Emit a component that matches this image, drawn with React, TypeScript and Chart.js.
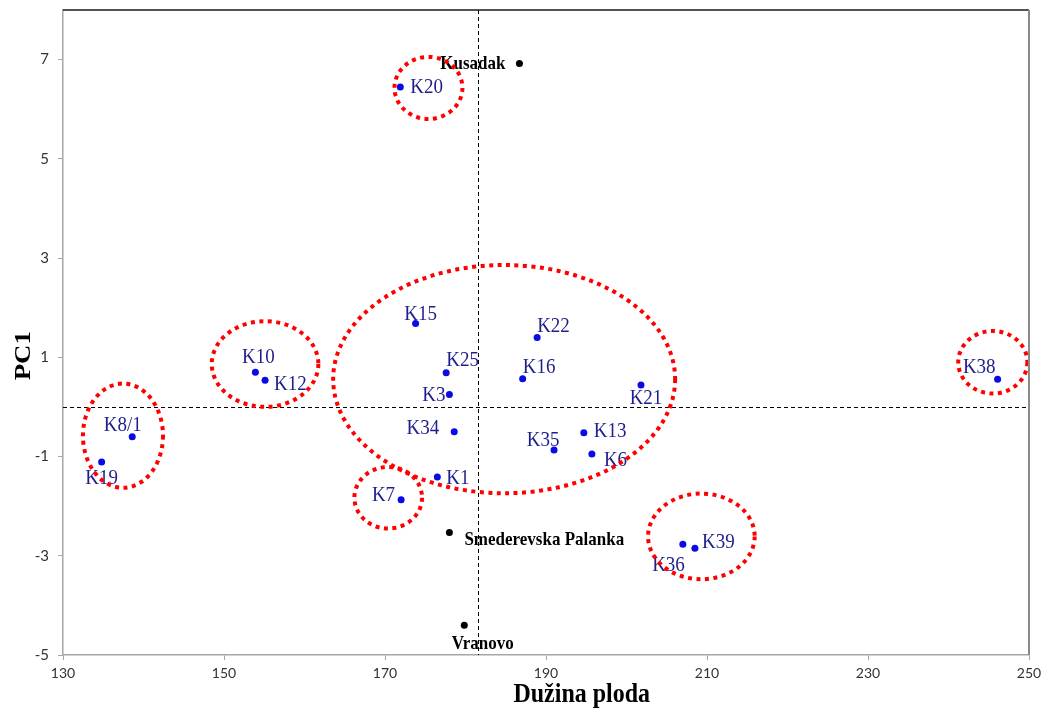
import React, { useEffect, useRef } from "react";
import { Chart, registerables } from "chart.js";

Chart.register(...registerables);

// ---- data ----
const accessionNames = ["K20", "K10", "K12", "K8/1", "K19", "K15", "K22", "K25", "K16", "K3", "K21", "K34", "K13", "K35", "K6", "K1", "K7", "K36", "K39", "K38"];
const accessionLength = [171.9, 153.9, 155.1, 138.6, 134.8, 173.8, 188.9, 177.6, 187.1, 178.0, 201.8, 178.6, 194.7, 191.0, 195.7, 176.5, 172.0, 207.0, 208.5, 246.1];
const accessionPC1 = [6.45, 0.70, 0.54, -0.60, -1.11, 1.68, 1.40, 0.69, 0.57, 0.25, 0.44, -0.50, -0.52, -0.87, -0.95, -1.41, -1.87, -2.77, -2.85, 0.56];

const locationNames = ["Kusadak", "Smederevska Palanka", "Vranovo"];
const locationLength = [186.7, 178.0, 179.85];
const locationPC1 = [6.92, -2.53, -4.40];

const xTicks = [130, 150, 170, 190, 210, 230, 250];
const yTicks = [-5, -3, -1, 1, 3, 5, 7];

// reference (mean) lines
const meanLength = 181.5;
const meanPC1 = 0;

// grouping ellipses: centre x, centre y, radius x, radius y (data units)
const groupCx = [175.4, 155.1, 137.45, 184.8, 170.4, 209.3, 245.5];
const groupCy = [6.43, 0.865, -0.58, 0.56, -1.83, -2.61, 0.90];
const groupRx = [4.22, 6.62, 4.97, 21.24, 4.2, 6.62, 4.29];
const groupRy = [0.625, 0.863, 1.05, 2.30, 0.62, 0.863, 0.63];

// label placement (pixel offsets, styling only)
const accessionLabelPos: [number, number, CanvasTextAlign][] = [
  [10, 1, "left"], [3, -15, "center"], [9, 4, "left"], [-9.5, -11, "center"], [0, 16, "center"],
  [5, -9, "center"], [0, -11, "left"], [0, -12, "left"], [0, -11, "left"], [-4, 1, "right"],
  [5, 13, "center"], [-15, -3, "right"], [10, -1, "left"], [-11, -10, "center"], [12, 6, "left"],
  [9, 2, "left"], [-6, -4, "right"], [2, 21, "right"], [7, -6, "left"], [-2, -12, "right"],
];
const locationLabelPos: [number, number, CanvasTextAlign][] = [
  [-14, 0, "right"], [15, 8, "left"], [18.5, 19, "center"],
];

const STRETCH = 1.12;

function drawText(ctx: CanvasRenderingContext2D, text: string, x: number, y: number, align: CanvasTextAlign, font: string, color: string, baseline: CanvasTextBaseline = "middle", rotate = 0) {
  ctx.save();
  ctx.translate(x, y);
  if (rotate) ctx.rotate(rotate);
  if (rotate) ctx.scale(STRETCH, 1); else ctx.scale(1, STRETCH);
  ctx.font = font;
  ctx.textAlign = align;
  ctx.textBaseline = baseline;
  ctx.fillStyle = color;
  ctx.fillText(text, 0, 0);
  ctx.restore();
}

const overlayPlugin = {
  id: "overlay",
  beforeDatasetsDraw(chart: any) {
    const { ctx, chartArea, scales } = chart;
    const xs = scales.x, ys = scales.y;
    ctx.save();
    ctx.strokeStyle = "#000";
    ctx.lineWidth = 1;
    ctx.setLineDash([4, 3]);
    const px = Math.round(xs.getPixelForValue(meanLength)) + 0.5;
    const py = Math.round(ys.getPixelForValue(meanPC1)) + 0.5;
    ctx.beginPath();
    ctx.moveTo(px, chartArea.top);
    ctx.lineTo(px, chartArea.bottom);
    ctx.moveTo(chartArea.left, py);
    ctx.lineTo(chartArea.right, py);
    ctx.stroke();
    ctx.restore();
  },
  afterDatasetsDraw(chart: any) {
    const { ctx, chartArea, scales } = chart;
    const xs = scales.x, ys = scales.y;
    // labels
    accessionNames.forEach((name, i) => {
      const x = xs.getPixelForValue(accessionLength[i]);
      const y = ys.getPixelForValue(accessionPC1[i]);
      const [dx, dy, al] = accessionLabelPos[i];
      drawText(ctx, name, x + dx, y + dy, al, "19px 'Liberation Serif', serif", "#1e1e8c");
    });
    locationNames.forEach((name, i) => {
      const x = xs.getPixelForValue(locationLength[i]);
      const y = ys.getPixelForValue(locationPC1[i]);
      const [dx, dy, al] = locationLabelPos[i];
      drawText(ctx, name, x + dx, y + dy, al, "bold 17px 'Liberation Serif', serif", "#000");
    });
    // ellipses
    ctx.save();
    ctx.strokeStyle = "#ff0000";
    ctx.lineWidth = 4;
    ctx.setLineDash([4, 4.5]);
    ctx.lineCap = "butt";
    groupCx.forEach((cx, i) => {
      const cxp = xs.getPixelForValue(cx);
      const cyp = ys.getPixelForValue(groupCy[i]);
      const rxp = Math.abs(xs.getPixelForValue(cx + groupRx[i]) - cxp);
      const ryp = Math.abs(ys.getPixelForValue(groupCy[i] + groupRy[i]) - cyp);
      ctx.beginPath();
      ctx.ellipse(cxp, cyp, rxp, ryp, 0, 0, Math.PI * 2);
      ctx.stroke();
    });
    ctx.restore();
    // top & right frame
    ctx.save();
    ctx.strokeStyle = "#1a1a1a";
    ctx.lineWidth = 1.5;
    ctx.beginPath();
    ctx.moveTo(chartArea.left, chartArea.top);
    ctx.lineTo(chartArea.right, chartArea.top);
    ctx.stroke();
    ctx.strokeStyle = "#8a8a8a";
    ctx.lineWidth = 2;
    ctx.beginPath();
    ctx.moveTo(chartArea.right, chartArea.top);
    ctx.lineTo(chartArea.right, chartArea.bottom);
    ctx.stroke();
    ctx.restore();
    // axis titles
    const w = chartArea.right - chartArea.left;
    const h = chartArea.bottom - chartArea.top;
    drawText(ctx, "Dužina ploda", chartArea.left + w * 0.537, 702, "center", "bold 24px 'Liberation Serif', serif", "#000", "alphabetic");
    drawText(ctx, "PC1", 23.5, chartArea.top + h * 0.536, "center", "bold 24px 'Liberation Serif', serif", "#000", "middle", -Math.PI / 2);
  },
};

export default function App() {
  const canvasRef = useRef<HTMLCanvasElement | null>(null);

  useEffect(() => {
    if (!canvasRef.current) return;
    const axisColor = "#a6a6a6";
    const tickFont = { family: "Lato, 'Liberation Sans', sans-serif", size: 14 };
    const chart = new Chart(canvasRef.current, {
      type: "scatter",
      data: {
        datasets: [
          {
            label: "Accessions",
            data: accessionLength.map((x, i) => ({ x, y: accessionPC1[i] })),
            backgroundColor: "#0a0ae6",
            borderColor: "#0a0ae6",
            pointRadius: 3.5,
            pointBorderWidth: 0,
          },
          {
            label: "Locations",
            data: locationLength.map((x, i) => ({ x, y: locationPC1[i] })),
            backgroundColor: "#000",
            borderColor: "#000",
            pointRadius: 3.5,
            pointBorderWidth: 0,
          },
        ],
      },
      options: {
        animation: false,
        responsive: true,
        maintainAspectRatio: false,
        layout: { padding: { left: 0, top: 10, right: 16, bottom: 0 } },
        plugins: { legend: { display: false }, tooltip: { enabled: false } },
        scales: {
          x: {
            type: "linear",
            min: 130,
            max: 250,
            afterBuildTicks: (s: any) => { s.ticks = xTicks.map((v) => ({ value: v })); },
            afterFit: (s: any) => { s.height = 56; s.paddingLeft = 0; s.paddingRight = 0; },
            ticks: { font: tickFont, color: "#333", padding: 5, maxRotation: 0 },
            grid: { drawOnChartArea: false, tickLength: 5, tickColor: axisColor },
            border: { color: axisColor, width: 1.5 },
          },
          y: {
            type: "linear",
            min: -5,
            max: 8,
            afterBuildTicks: (s: any) => { s.ticks = yTicks.map((v) => ({ value: v })); },
            afterFit: (s: any) => { s.width = 63; s.paddingTop = 0; s.paddingBottom = 0; },
            ticks: { font: { ...tickFont, size: 15 }, color: "#333", padding: 9 },
            grid: { drawOnChartArea: false, tickLength: 5, tickColor: axisColor },
            border: { color: axisColor, width: 1.5 },
          },
        },
      },
      plugins: [overlayPlugin],
    });
    return () => chart.destroy();
  }, []);

  return (
    <div style={{ position: "fixed", left: 0, top: 0, width: 1045, height: 711, background: "#fff" }}>
      <canvas ref={canvasRef} />
    </div>
  );
}
